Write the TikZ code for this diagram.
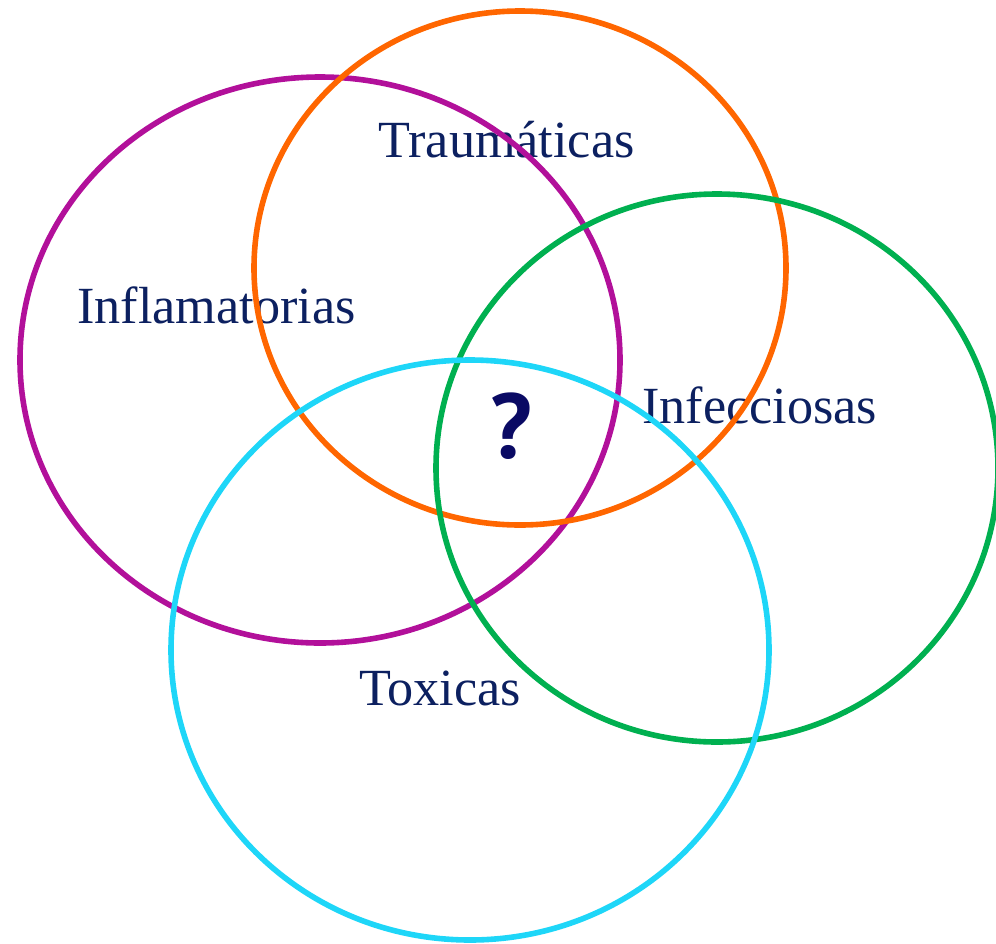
\documentclass[tikz,border=0pt]{standalone}
\usepackage{fontspec}
\setmainfont{Liberation Serif}
\newfontfamily\qfont{PT Sans}
\usepackage{tikz}
\usetikzlibrary{positioning}
\usepackage{xcolor}
\definecolor{Navy}{RGB}{12, 32, 96}
\definecolor{DeepNavy}{RGB}{10, 10, 100}
\definecolor{Plum}{RGB}{178, 16, 154}
\definecolor{Tangerine}{RGB}{255, 102, 0}
\definecolor{Jade}{RGB}{0, 176, 80}
\definecolor{Sky}{RGB}{30, 214, 248}
\tikzset{%
  ring/.style={%
    line width=2.8pt,%
  },
  cause/.style={%
    color=Navy,%
    anchor=base west,%
    inner sep=0pt,%
    font={\fontsize{26.1}{30}\selectfont},%
  },
  unknown/.style={%
    color=DeepNavy,%
    anchor=base,%
    inner sep=0pt,%
    font={\qfont\bfseries\fontsize{46}{52}\selectfont},%
  },
}
\begin{document}
\begin{tikzpicture}[x=0.5pt, y=-0.5pt]

    \useasboundingbox (0, 0) rectangle (996, 943);

    \coordinate (InflC) at (320, 360);
    \coordinate (TraumC) at (520, 268);
    \coordinate (InfecC) at (717, 468);
    \coordinate (ToxC) at (470, 650);

    \node [cause] (Traum) at (378, 157) {Traumáticas};
    \node [cause] (Infl) at (77, 323) {Inflamatorias};
    \node [cause] (Infec) at (642, 423) {Infecciosas};
    \node [cause] (Tox) at (359, 705) {Toxicas};
    \node [unknown] (Question) at (511, 458) {?};

    \draw [ring, Plum] (InflC) ellipse [x radius=300, y radius=283];
    \draw [ring, Tangerine] (TraumC) ellipse [x radius=266, y radius=257];
    \draw [ring, Jade] (InfecC) ellipse [x radius=281, y radius=274];
    \draw [ring, Sky] (ToxC) ellipse [x radius=299, y radius=290];
  \end{tikzpicture}
\end{document}
